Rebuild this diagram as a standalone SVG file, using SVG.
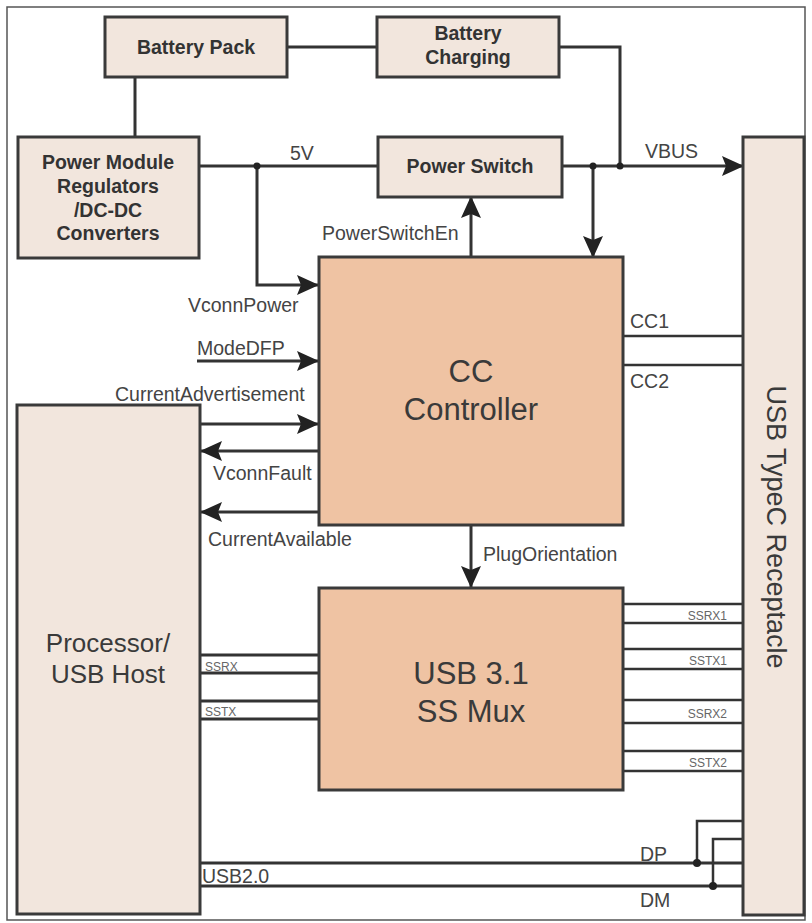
<svg xmlns="http://www.w3.org/2000/svg" width="812" height="923" viewBox="0 0 812 923">
<defs>
<style>
.box{fill:#f2e6dd;stroke:#3a3a3a;stroke-width:3}
.hot{fill:#efc3a3;stroke:#3a3a3a;stroke-width:3}
.bl{font-family:"Liberation Sans",Arial,sans-serif;font-weight:bold;font-size:19.5px;fill:#333;text-anchor:middle}
.big{font-family:"Liberation Sans",Arial,sans-serif;font-size:31px;fill:#3a3a3a;text-anchor:middle}
.lab{font-family:"Liberation Sans",Arial,sans-serif;font-size:19.5px;fill:#444}
.sm{font-family:"Liberation Sans",Arial,sans-serif;font-size:12px;fill:#666}
.ln{fill:none;stroke:#333;stroke-width:3}
.tn{fill:none;stroke:#333;stroke-width:2.5}
.dot{fill:#222}
</style>
<marker id="ah" markerUnits="userSpaceOnUse" markerWidth="22" markerHeight="20" viewBox="0 0 22 20" refX="21" refY="10" orient="auto">
<path d="M0,0 L22,10 L0,20 L4,10 z" fill="#222"/>
</marker>
</defs>
<rect x="7" y="7" width="798" height="913" fill="#fff" stroke="#555" stroke-width="1.5"/>

<g id="connectors">
<line class="ln" x1="287" y1="47" x2="377" y2="47"/>
<line class="ln" x1="135" y1="77" x2="135" y2="137"/>
<polyline class="ln" points="559,47 620,47 620,166"/>
<line class="ln" x1="199" y1="166" x2="377" y2="166"/>
<polyline class="ln" points="257,166 257,285 318,285" marker-end="url(#ah)"/>
<line class="ln" x1="561" y1="166" x2="743" y2="166" marker-end="url(#ah)"/>
<line class="ln" x1="593" y1="166" x2="593" y2="257" marker-end="url(#ah)"/>
<line class="ln" x1="471" y1="257" x2="471" y2="197" marker-end="url(#ah)"/>
<line class="ln" x1="197" y1="361" x2="318" y2="361" marker-end="url(#ah)"/>
<line class="ln" x1="200" y1="424" x2="318" y2="424" marker-end="url(#ah)"/>
<line class="ln" x1="319" y1="451" x2="201" y2="451" marker-end="url(#ah)"/>
<line class="ln" x1="319" y1="512" x2="201" y2="512" marker-end="url(#ah)"/>
<line class="ln" x1="471" y1="526" x2="471" y2="587" marker-end="url(#ah)"/>
<line class="tn" x1="623" y1="336" x2="743" y2="336"/>
<line class="tn" x1="623" y1="365" x2="743" y2="365"/>
<line class="ln" x1="200" y1="655" x2="319" y2="655"/>
<line class="ln" x1="200" y1="673" x2="319" y2="673"/>
<line class="ln" x1="200" y1="701" x2="319" y2="701"/>
<line class="ln" x1="200" y1="719" x2="319" y2="719"/>
<line class="tn" x1="623" y1="604" x2="743" y2="604"/>
<line class="tn" x1="623" y1="623" x2="743" y2="623"/>
<line class="tn" x1="623" y1="649" x2="743" y2="649"/>
<line class="tn" x1="623" y1="669" x2="743" y2="669"/>
<line class="tn" x1="623" y1="700" x2="743" y2="700"/>
<line class="tn" x1="623" y1="723" x2="743" y2="723"/>
<line class="tn" x1="623" y1="751" x2="743" y2="751"/>
<line class="tn" x1="623" y1="771" x2="743" y2="771"/>
<line class="ln" x1="200" y1="863" x2="743" y2="863"/>
<line class="ln" x1="200" y1="886" x2="743" y2="886"/>
<polyline class="tn" points="743,821 697,821 697,863"/>
<polyline class="tn" points="743,839 713,839 713,886"/>
<circle class="dot" cx="257" cy="166" r="3.5"/>
<circle class="dot" cx="593" cy="166" r="3.5"/>
<circle class="dot" cx="620" cy="166" r="3.5"/>
<circle class="dot" cx="697" cy="863" r="4"/>
<circle class="dot" cx="713" cy="886" r="4"/>
<text class="lab" x="290" y="160">5V</text>
<text class="lab" x="645" y="158">VBUS</text>
<text class="lab" x="322" y="240">PowerSwitchEn</text>
<text class="lab" x="188" y="312">VconnPower</text>
<text class="lab" x="197" y="355">ModeDFP</text>
<text class="lab" x="115" y="401">CurrentAdvertisement</text>
<text class="lab" x="213" y="480">VconnFault</text>
<text class="lab" x="208" y="546">CurrentAvailable</text>
<text class="lab" x="483" y="561">PlugOrientation</text>
<text class="lab" x="630" y="328">CC1</text>
<text class="lab" x="630" y="388">CC2</text>
<text class="sm" x="205" y="671">SSRX</text>
<text class="sm" x="205" y="716">SSTX</text>
<text class="sm" x="727" y="620" text-anchor="end">SSRX1</text>
<text class="sm" x="727" y="665" text-anchor="end">SSTX1</text>
<text class="sm" x="727" y="718" text-anchor="end">SSRX2</text>
<text class="sm" x="727" y="767" text-anchor="end">SSTX2</text>
<text class="lab" x="202" y="883">USB2.0</text>
<text class="lab" x="640" y="861">DP</text>
<text class="lab" x="640" y="907">DM</text>
</g>

<g id="battery-pack">
<rect class="box" x="105" y="17" width="182" height="60"/>
<text class="bl" x="196" y="54">Battery Pack</text>
</g>
<g id="battery-charging">
<rect class="box" x="377" y="17" width="182" height="60"/>
<text class="bl" x="468" y="40">Battery</text>
<text class="bl" x="468" y="64">Charging</text>
</g>
<g id="power-module">
<rect class="box" x="18" y="137" width="181" height="121"/>
<text class="bl" x="108" y="169">Power Module</text>
<text class="bl" x="108" y="193">Regulators</text>
<text class="bl" x="108" y="217">/DC-DC</text>
<text class="bl" x="108" y="240">Converters</text>
</g>
<g id="power-switch">
<rect class="box" x="378" y="137" width="184" height="60"/>
<text class="bl" x="470" y="173">Power Switch</text>
</g>
<g id="cc-controller">
<rect class="hot" x="319" y="257" width="304" height="268"/>
<text class="big" x="471" y="382">CC</text>
<text class="big" x="471" y="420">Controller</text>
</g>
<g id="processor">
<rect class="box" x="17" y="405" width="183" height="509"/>
<text class="big" x="108" y="652" style="font-size:26px">Processor/</text>
<text class="big" x="108" y="683" style="font-size:26px">USB Host</text>
</g>
<g id="ss-mux">
<rect class="hot" x="319" y="588" width="304" height="202"/>
<text class="big" x="471" y="684">USB 3.1</text>
<text class="big" x="471" y="722">SS Mux</text>
</g>
<g id="receptacle">
<rect class="box" x="743" y="137" width="61" height="778"/>
<text class="big" x="0" y="0" style="font-size:27px" transform="translate(767,527) rotate(90)">USB TypeC Receptacle</text>
</g>
</svg>
